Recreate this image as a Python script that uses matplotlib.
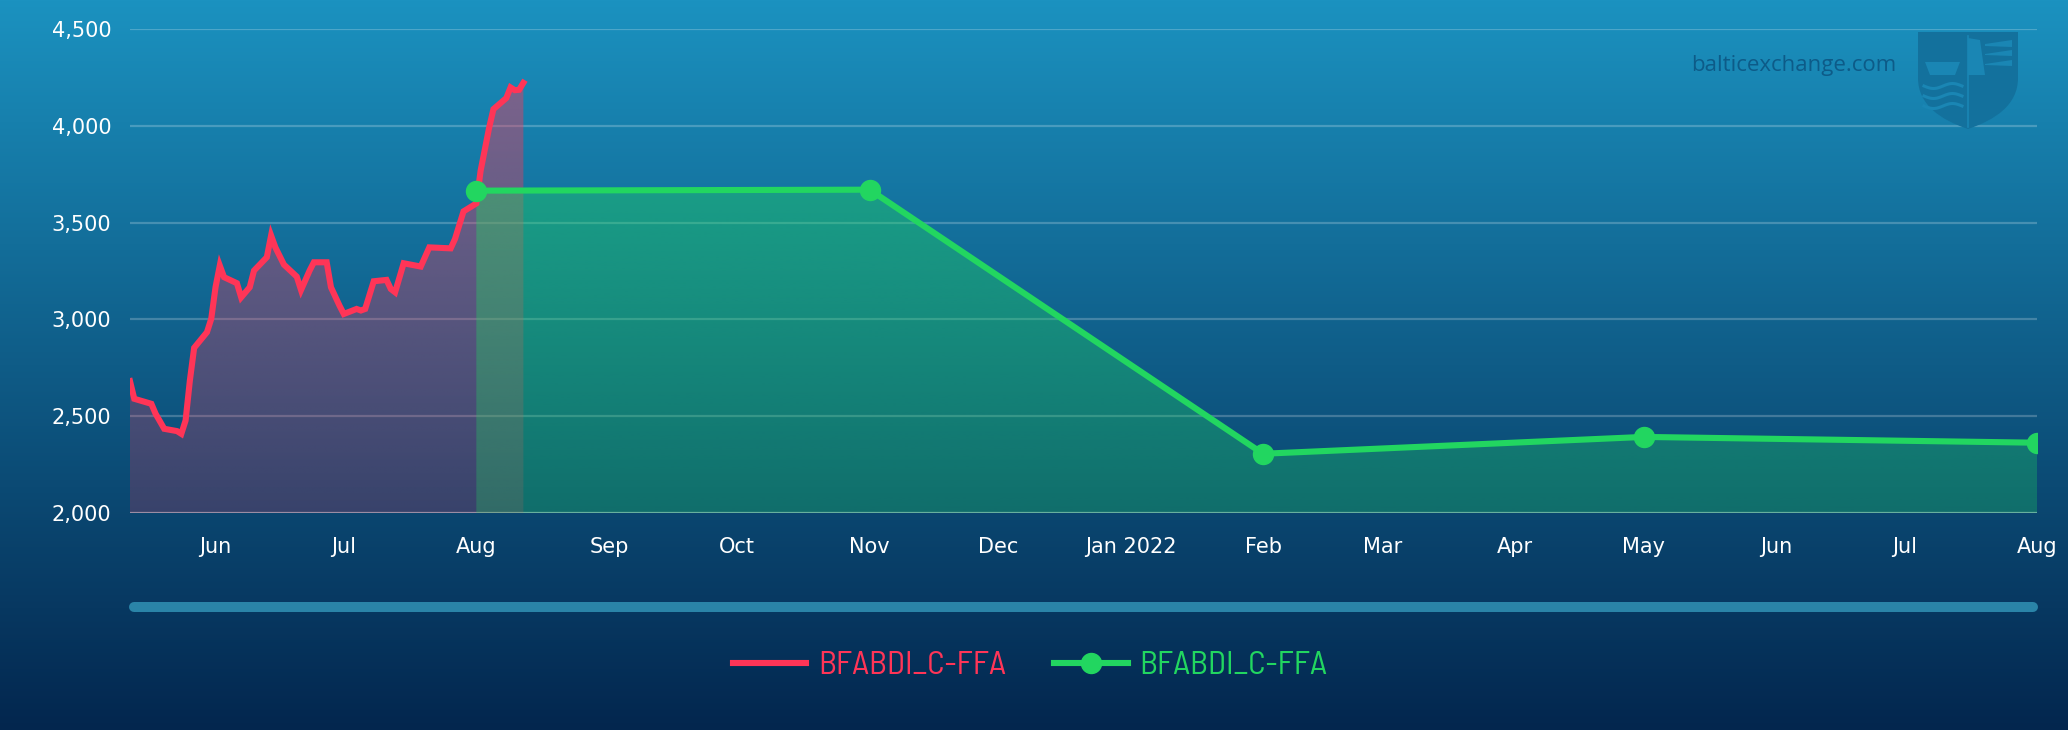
import numpy as np
import matplotlib
matplotlib.use("Agg")
import matplotlib.pyplot as plt
import matplotlib.dates as mdates
from matplotlib.lines import Line2D
from matplotlib.path import Path
from matplotlib.patches import PathPatch
import pandas as pd

# ---------------- data ----------------
red_dates = ["2021-05-12", "2021-05-13", "2021-05-17", "2021-05-18", "2021-05-20",
             "2021-05-23", "2021-05-24", "2021-05-25", "2021-05-26", "2021-05-27",
             "2021-05-30", "2021-05-31", "2021-06-01", "2021-06-02", "2021-06-03",
             "2021-06-06", "2021-06-07", "2021-06-09", "2021-06-10", "2021-06-13",
             "2021-06-14", "2021-06-15", "2021-06-17", "2021-06-20", "2021-06-21",
             "2021-06-23", "2021-06-24", "2021-06-27", "2021-06-28", "2021-06-30",
             "2021-07-01", "2021-07-04", "2021-07-05", "2021-07-06", "2021-07-08",
             "2021-07-11", "2021-07-12", "2021-07-13", "2021-07-15", "2021-07-19",
             "2021-07-21", "2021-07-26", "2021-07-27", "2021-07-29", "2021-08-01",
             "2021-08-02", "2021-08-04", "2021-08-05", "2021-08-08", "2021-08-09",
             "2021-08-10", "2021-08-11", "2021-08-12"]
red_values = [2681, 2590, 2564, 2512, 2435,
              2423, 2409, 2478, 2684, 2853,
              2934, 3003, 3166, 3278, 3218,
              3187, 3114, 3166, 3252, 3321,
              3433, 3372, 3283, 3221, 3152,
              3252, 3295, 3295, 3166, 3071,
              3028, 3054, 3046, 3054, 3197,
              3204, 3157, 3140, 3290, 3273,
              3372, 3367, 3415, 3558, 3599,
              3768, 3991, 4086, 4143, 4198,
              4184, 4186, 4222]

green_dates = ["2021-08-01", "2021-11-01", "2022-02-01", "2022-05-01", "2022-08-01"]
green_values = [3665, 3670, 2306, 2393, 2363]

series_names = ["BFABDI_C-FFA", "BFABDI_C-FFA"]

y_ticks = [2000, 2500, 3000, 3500, 4000, 4500]
x_tick_dates = ["2021-06-01", "2021-07-01", "2021-08-01", "2021-09-01", "2021-10-01",
                "2021-11-01", "2021-12-01", "2022-01-01", "2022-02-01", "2022-03-01",
                "2022-04-01", "2022-05-01", "2022-06-01", "2022-07-01", "2022-08-01"]
x_tick_labels = ["Jun", "Jul", "Aug", "Sep", "Oct", "Nov", "Dec", "Jan 2022",
                 "Feb", "Mar", "Apr", "May", "Jun", "Jul", "Aug"]
x_range = ["2021-05-12", "2022-08-01"]
y_range = [2000, 4500]

# ---------------- style ----------------
RED = "#ff3557"
GREEN = "#22d660"
W, H = 2068, 730
FONT = ["DejaVu Sans"]
LEG_FONT = ["Barlow Semi Condensed", "Barlow Condensed", "DejaVu Sans"]

fig = plt.figure(figsize=(W / 100, H / 100), dpi=100)

# background gradient
bg = fig.add_axes([0, 0, 1, 1], zorder=-10)
top_c = np.array([27, 146, 192]) / 255
bot_c = np.array([3, 38, 78]) / 255
t = np.linspace(0, 1, H)[:, None]
grad = top_c * (1 - t) + bot_c * t
bg.imshow(grad[:, None, :], aspect="auto", extent=[0, 1, 0, 1], origin="upper")
bg.axis("off")


def fx(px):
    return px / W


def fy(py):
    return 1 - py / H


ax = fig.add_axes([fx(130), fy(513), (2037 - 130) / W, (513 - 29) / H])
ax.patch.set_alpha(0)
for s in ax.spines.values():
    s.set_visible(False)

xr = mdates.date2num(pd.to_datetime(red_dates))
xg = mdates.date2num(pd.to_datetime(green_dates))


def gradient_fill(x, y, rgb_hex, a_top, a_bot, z):
    poly = ax.fill_between(x, y, y_range[0], facecolor="none", edgecolor="none")
    rgb = matplotlib.colors.to_rgb(rgb_hex)
    img = np.zeros((256, 2, 4))
    img[..., :3] = rgb
    img[..., 3] = np.linspace(a_top, a_bot, 256)[:, None]
    im = ax.imshow(img, extent=[x[0], x[-1], y_range[0], y_range[1]], origin="upper",
                   aspect="auto", zorder=z, interpolation="bilinear")
    im.set_clip_path(poly.get_paths()[0], ax.transData)


gradient_fill(xr, red_values, RED, 0.46, 0.19, 1)
gradient_fill(xg, green_values, GREEN, 0.48, 0.28, 1.5)

# grid
for v in y_ticks:
    if v == y_range[0]:
        ax.axhline(v, color="white", alpha=0.5, lw=1.6, zorder=0.6)
    else:
        ax.axhline(v, color="white", alpha=0.22, lw=1.6, zorder=0.6)

ax.plot(xg, green_values, color=GREEN, lw=4.4, zorder=3, solid_joinstyle="round")
ax.plot(xr, red_values, color=RED, lw=4.4, zorder=4, solid_joinstyle="miter")
ax.plot(xg, green_values, ls="none", marker="o", ms=14.4, color=GREEN, zorder=5)

ax.set_xlim(mdates.date2num(pd.to_datetime(x_range)))
ax.set_ylim(y_range)

ax.set_yticks(y_ticks)
ax.set_yticklabels([f"{v:,}" for v in y_ticks], family=FONT, fontsize=15, color="white")
ax.set_xticks(mdates.date2num(pd.to_datetime(x_tick_dates)))
ax.set_xticklabels(x_tick_labels, family=FONT, fontsize=15, color="white")
ax.tick_params(axis="y", length=0, pad=13.5)
ax.tick_params(axis="x", length=0, pad=17)

# watermark
fig.text(fx(1691), fy(65), "balticexchange.com", family=["Open Sans", "DejaVu Sans"],
         fontsize=16, color="#0d5b88", ha="left", va="center")


# shield logo
def P(x, y):
    return (fx(x), fy(y))


sv = [P(1918, 32), P(2018, 32), P(2018, 78), P(2018, 105), P(1995, 120), P(1968, 129),
      P(1941, 120), P(1918, 105), P(1918, 78), P(1918, 32)]
sc = [Path.MOVETO, Path.LINETO, Path.LINETO, Path.CURVE4, Path.CURVE4, Path.CURVE4,
      Path.CURVE4, Path.CURVE4, Path.CURVE4, Path.CLOSEPOLY]
fig.add_artist(PathPatch(Path(sv, sc), transform=fig.transFigure,
                         facecolor="#13719d", edgecolor="none", zorder=2))
light = "#1a86b4"
for yy in (86, 96, 106):
    xs = np.linspace(1924, 1962, 30)
    ys = yy + 2.5 * np.sin((xs - 1924) / 38 * 2 * np.pi)
    fig.add_artist(Line2D(fx(xs), fy(ys), transform=fig.transFigure, color=light, lw=2.2, zorder=3))
for (y0, y1) in ((40, 47), (50, 56), (60, 66)):
    bv = [P(1985, y0 + 4), P(2012, y0), P(2012, y1), P(1985, y1 - 1), P(1985, y0 + 4)]
    fig.add_artist(PathPatch(Path(bv, [Path.MOVETO, Path.LINETO, Path.LINETO, Path.LINETO, Path.CLOSEPOLY]),
                             transform=fig.transFigure, facecolor=light, edgecolor="none", zorder=3))
tv = [P(1968, 38), P(1980, 40), P(1985, 75), P(1968, 75), P(1968, 38)]
fig.add_artist(PathPatch(Path(tv, [Path.MOVETO, Path.LINETO, Path.LINETO, Path.LINETO, Path.CLOSEPOLY]),
                         transform=fig.transFigure, facecolor=light, edgecolor="none", zorder=3))
fig.add_artist(Line2D([fx(1968), fx(1968)], [fy(36), fy(127)], transform=fig.transFigure,
                      color=light, lw=1.2, zorder=3))
ship = [P(1925, 62), P(1960, 62), P(1955, 75), P(1930, 75), P(1925, 62)]
fig.add_artist(PathPatch(Path(ship, [Path.MOVETO, Path.LINETO, Path.LINETO, Path.LINETO, Path.CLOSEPOLY]),
                         transform=fig.transFigure, facecolor=light, edgecolor="none", zorder=3))

# scrollbar
fig.add_artist(Line2D([fx(134), fx(2033)], [fy(607), fy(607)], transform=fig.transFigure,
                      lw=7.2, color="#2a84a8", solid_capstyle="round"))

# legend
h1 = Line2D([], [], color=RED, lw=4.4)
h2 = Line2D([], [], color=GREEN, lw=4.4, marker="o", ms=14.4)
fig.legend([h1, h2], series_names, loc="center", bbox_to_anchor=(fx(1030), fy(666)),
           ncol=2, frameon=False, handlelength=2.2, handletextpad=0.36, columnspacing=1.45,
           labelcolor=[RED, GREEN], prop={"family": LEG_FONT, "size": 24})

fig.savefig("out.png", dpi=100)
